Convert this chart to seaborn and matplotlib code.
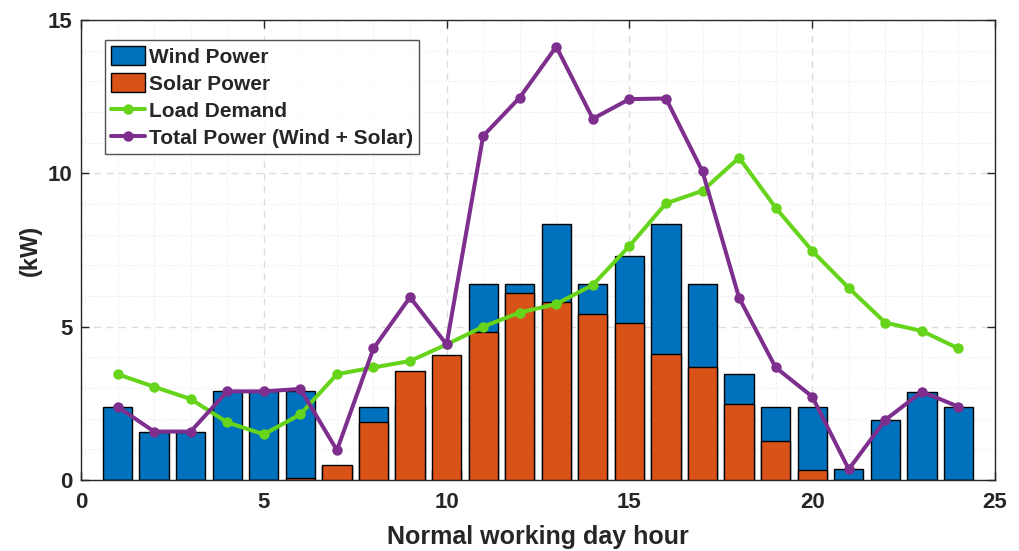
import matplotlib
matplotlib.use("Agg")
import matplotlib.pyplot as plt
from matplotlib.patches import Patch
from matplotlib.lines import Line2D
from matplotlib.ticker import MultipleLocator
import numpy as np
import pandas as pd
import seaborn as sns

# Hourly generation and demand for a normal working day (kW)
hours = list(range(1, 25))
wind_power = [2.39, 1.58, 1.58, 2.89, 2.89, 2.89, 0.47, 2.39, 2.40, 0.34, 6.38, 6.38,
              8.34, 6.38, 7.31, 8.34, 6.38, 3.46, 2.39, 2.39, 0.35, 1.96, 2.88, 2.39]
solar_power = [0.00, 0.00, 0.00, 0.00, 0.00, 0.08, 0.50, 1.90, 3.56, 4.08, 4.84, 6.09,
               5.79, 5.40, 5.11, 4.10, 3.68, 2.48, 1.28, 0.33, 0.00, 0.00, 0.00, 0.00]
load_demand = [3.45, 3.04, 2.64, 1.88, 1.49, 2.14, 3.45, 3.67, 3.88, 4.42, 5.00, 5.46,
               5.74, 6.36, 7.63, 9.02, 9.43, 10.51, 8.88, 7.47, 6.26, 5.13, 4.86, 4.29]
total_power = [w + s for w, s in zip(wind_power, solar_power)]

series_labels = ["Wind Power", "Solar Power", "Load Demand", "Total Power (Wind + Solar)"]
x_ticks = [0, 5, 10, 15, 20, 25]
y_ticks = [0, 5, 10, 15]

df = pd.DataFrame({"hour": hours, "wind": wind_power, "solar": solar_power,
                   "load": load_demand, "total": total_power})

c_wind = "#0072BD"
c_solar = "#D95319"
c_load = "#66D41A"
c_total = "#7E2F8E"
c_text = "#262626"

sns.set_theme(style="white")
plt.rcParams["font.family"] = ["Liberation Sans", "DejaVu Sans"]
plt.rcParams["font.weight"] = "bold"

fig = plt.figure(figsize=(10.19, 5.51), dpi=100)
ax = fig.add_axes([81 / 1019, 1 - 480 / 551, 914 / 1019, 460 / 551])

sns.barplot(data=df, x="hour", y="wind", native_scale=True, width=0.8,
            color=c_wind, saturation=1, edgecolor="black", linewidth=1.0, ax=ax, zorder=2)
sns.barplot(data=df, x="hour", y="solar", native_scale=True, width=0.8,
            color=c_solar, saturation=1, edgecolor="black", linewidth=1.0, ax=ax, zorder=3)
sns.lineplot(data=df, x="hour", y="load", color=c_load, linewidth=2.9, marker="o",
             markersize=7.5, markeredgewidth=0, ax=ax, zorder=4)
sns.lineplot(data=df, x="hour", y="total", color=c_total, linewidth=2.9, marker="o",
             markersize=7.5, markeredgewidth=0, ax=ax, zorder=5)

ax.set_xlim(0, 25)
ax.set_ylim(0, 15)
ax.set_xticks(x_ticks)
ax.set_yticks(y_ticks)
ax.xaxis.set_minor_locator(MultipleLocator(1))
ax.yaxis.set_minor_locator(MultipleLocator(1))
ax.set_xticklabels([str(t) for t in x_ticks], fontsize=16, fontweight="bold")
ax.set_yticklabels([str(t) for t in y_ticks], fontsize=16, fontweight="bold")
ax.tick_params(axis="both", which="major", direction="in", length=6, width=1.0,
               top=True, right=True, bottom=True, left=True, colors=c_text,
               labelcolor=c_text)
ax.tick_params(axis="x", which="major", pad=9)
ax.tick_params(axis="y", which="major", pad=6)
ax.tick_params(axis="both", which="minor", length=0)

ax.grid(True, which="major", color="#dcdcdc", linestyle=(0, (5, 4)), linewidth=1.0, zorder=0)
ax.grid(True, which="minor", color="#e6e6e6", linestyle=(0, (1, 2)), linewidth=0.8, zorder=0)
ax.set_axisbelow(True)

for sp in ax.spines.values():
    sp.set_color(c_text)
    sp.set_linewidth(1.0)

ax.set_xlabel("Normal working day hour", fontsize=18, fontweight="bold", color=c_text,
              labelpad=8)
ax.set_ylabel("(kW)", fontsize=17, fontweight="bold", color=c_text, labelpad=4)

handles = [
    Patch(facecolor=c_wind, edgecolor="black", linewidth=1.0),
    Patch(facecolor=c_solar, edgecolor="black", linewidth=1.0),
    Line2D([], [], color=c_load, linewidth=2.9, marker="o", markersize=7.5, markeredgewidth=0),
    Line2D([], [], color=c_total, linewidth=2.9, marker="o", markersize=7.5, markeredgewidth=0),
]
leg = ax.legend(handles, series_labels, loc="upper left",
                bbox_to_anchor=((105 - 81) / 914, (480 - 40) / 460),
                prop={"size": 15, "weight": "bold"}, frameon=True, fancybox=False,
                handlelength=1.6, handleheight=1.0, handletextpad=0.2, labelspacing=0.32,
                borderpad=0.3, borderaxespad=0)
leg.get_frame().set_edgecolor(c_text)
leg.get_frame().set_linewidth(1.0)
leg.set_zorder(10)

fig.savefig("out.png", dpi=100, facecolor="white")
